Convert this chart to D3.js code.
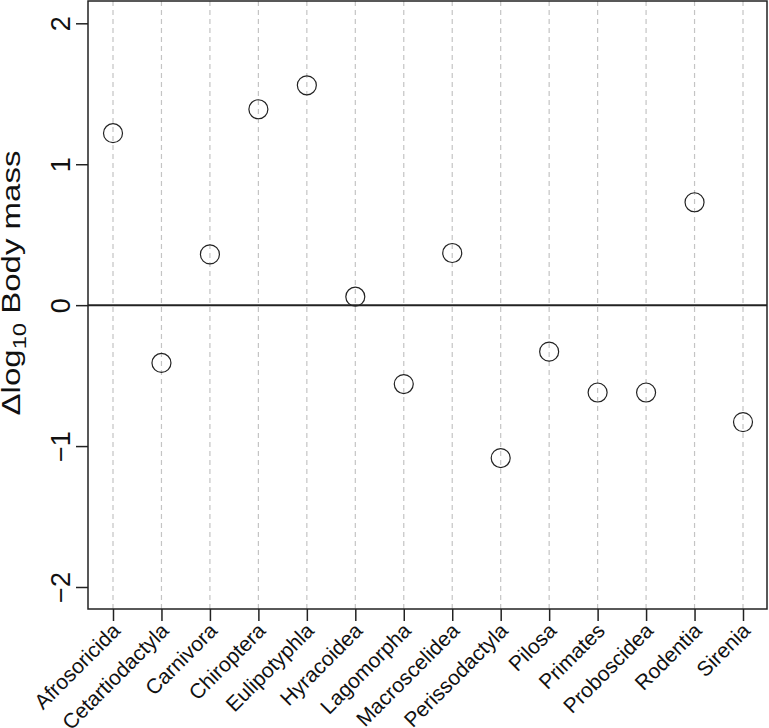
<!DOCTYPE html>
<html>
<head>
<meta charset="utf-8">
<script src="https://cdn.jsdelivr.net/npm/d3@7"></script>
<style>
  body { margin: 0; background: #fff; }
  svg { display: block; font-family: "Liberation Sans", Arial, Helvetica, sans-serif; }
</style>
</head>
<body>
<figure id="dots" style="margin:0"></figure>
<script>
// orders, in plotting order
const orders = ["Afrosoricida", "Cetartiodactyla", "Carnivora", "Chiroptera", "Eulipotyphla",
  "Hyracoidea", "Lagomorpha", "Macroscelidea", "Perissodactyla", "Pilosa", "Primates",
  "Proboscidea", "Rodentia", "Sirenia"];
// change in log10 body mass
const deltaMass = [1.22, -0.41, 0.36, 1.39, 1.56, 0.06, -0.56, 0.37, -1.085, -0.33, -0.62, -0.62, 0.73, -0.83];
const yTicks = [-2, -1, 0, 1, 2];

const width = 769, height = 728;
const boxLeft = 88, boxRight = 767, boxTop = 1, boxBottom = 609;

const svg = d3.select("figure#dots")
  .append("svg")
  .attr("width", width)
  .attr("height", height);

const x = d3.scalePoint()
  .domain(orders)
  .range([113, 743]);

const y = d3.scaleLinear()
  .domain([-2, 2])
  .range([587, 23.3]);

// dashed guides per order
svg.append("g")
  .selectAll("line")
  .data(orders)
  .enter()
  .append("line")
  .attr("x1", d => x(d))
  .attr("x2", d => x(d))
  .attr("y1", boxTop)
  .attr("y2", boxBottom)
  .attr("stroke", "#c4c4c4")
  .attr("stroke-width", 1.2)
  .attr("stroke-dasharray", "5,4");

// zero line
svg.append("line")
  .attr("x1", boxLeft)
  .attr("x2", boxRight)
  .attr("y1", y(0))
  .attr("y2", y(0))
  .attr("stroke", "#222")
  .attr("stroke-width", 2);

// box
svg.append("rect")
  .attr("x", boxLeft)
  .attr("y", boxTop)
  .attr("width", boxRight - boxLeft)
  .attr("height", boxBottom - boxTop)
  .attr("fill", "none")
  .attr("stroke", "#222")
  .attr("stroke-width", 1.5);

// y axis
const yAxis = svg.append("g")
  .attr("transform", "translate(" + boxLeft + ",0)")
  .call(d3.axisLeft(y).tickValues(yTicks).tickSize(12).tickFormat(d => d < 0 ? "\u2212" + Math.abs(d) : d));
yAxis.select(".domain").remove();
yAxis.selectAll(".tick line").attr("stroke", "#222").attr("stroke-width", 1.5);
yAxis.selectAll(".tick text")
  .attr("x", null).attr("dy", null)
  .attr("transform", "translate(-18,0) rotate(-90)")
  .attr("text-anchor", "middle")
  .attr("fill", "#111")
  .style("font-size", "27px")
  .style("font-family", "'Liberation Sans', Arial, sans-serif");

// x axis
const xAxis = svg.append("g")
  .attr("transform", "translate(0," + boxBottom + ")")
  .call(d3.axisBottom(x).tickSize(12));
xAxis.select(".domain").remove();
xAxis.selectAll(".tick line").attr("stroke", "#222").attr("stroke-width", 1.5);
xAxis.selectAll(".tick text")
  .attr("y", null).attr("dy", null)
  .attr("transform", "translate(8,23) rotate(-45)")
  .attr("text-anchor", "end")
  .attr("fill", "#111")
  .style("font-size", "21px")
  .style("font-family", "'Liberation Sans', Arial, sans-serif");

// y title with subscript, a bit stretched along its length like the original
const title = svg.append("text")
  .attr("transform", "translate(20,283) rotate(-90) scale(1.32,1)")
  .attr("text-anchor", "middle")
  .attr("fill", "#111")
  .style("font-size", "25px");
title.append("tspan").text("\u0394log");
title.append("tspan").attr("dy", 6).style("font-size", "18px").text("10");
title.append("tspan").attr("dy", -6).text(" Body mass");

// points
svg.append("g")
  .selectAll("circle")
  .data(orders)
  .enter()
  .append("circle")
  .attr("cx", d => x(d))
  .attr("cy", (d, i) => y(deltaMass[i]))
  .attr("r", 9.5)
  .attr("fill", "none")
  .attr("stroke", "#222")
  .attr("stroke-width", 1.2);
</script>
</body>
</html>
